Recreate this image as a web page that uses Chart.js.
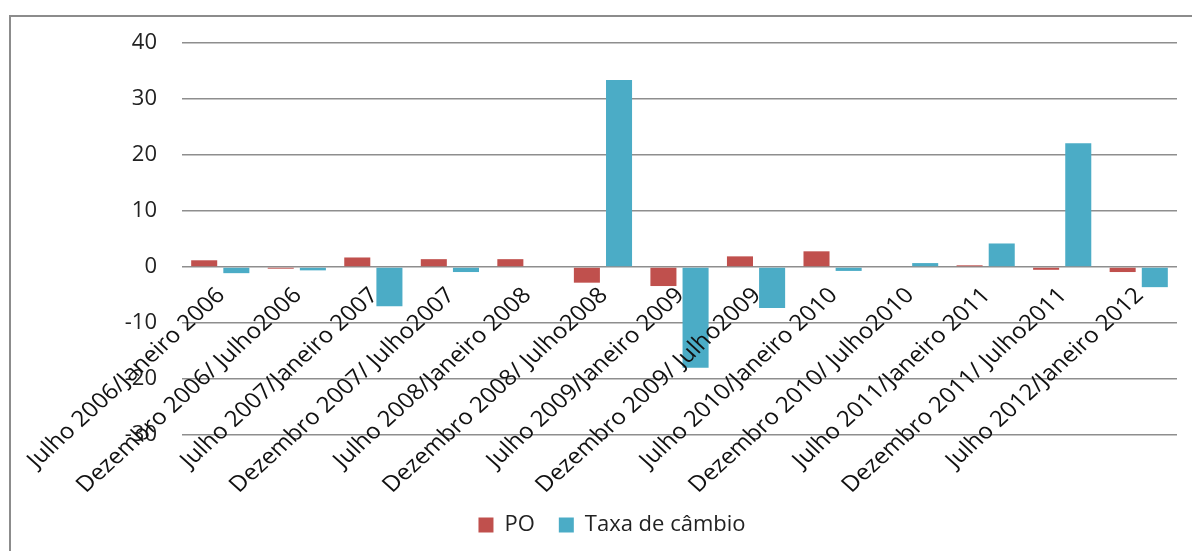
<!DOCTYPE html>
<html>
<head>
<meta charset="utf-8">
<script src="https://cdn.jsdelivr.net/npm/chart.js@4/dist/chart.umd.min.js"></script>
<style>
html,body{margin:0;padding:0;background:#fff;}
canvas{display:block;}
</style>
</head>
<body>
<canvas id="c" width="1192" height="551"></canvas>
<script>
var periods=['Julho 2006/Janeiro 2006','Dezembro 2006/ Julho2006','Julho 2007/Janeiro 2007','Dezembro 2007/ Julho2007','Julho 2008/Janeiro 2008','Dezembro 2008/ Julho2008','Julho 2009/Janeiro 2009','Dezembro 2009/ Julho2009','Julho 2010/Janeiro 2010','Dezembro 2010/ Julho2010','Julho 2011/Janeiro 2011','Dezembro 2011/ Julho2011','Julho 2012/Janeiro 2012'];
var po=[1.2,-0.3,1.7,1.4,1.4,-2.8,-3.4,1.9,2.8,0,0.3,-0.5,-0.9];
var taxa=[-1.1,-0.6,-7.0,-0.9,0,33.4,-18.0,-7.3,-0.7,0.7,4.2,22.1,-3.6];
var yTicks=[-30,-20,-10,0,10,20,30,40];

var FONT='"Open Sans", sans-serif';

// outer frame (Excel chart border, runs off right/bottom)
var frame={id:'frame',beforeDraw:function(ch){
  var c=ch.ctx;c.save();c.fillStyle='#fff';c.fillRect(0,0,ch.width,ch.height);
  c.strokeStyle='#8c8c8c';c.lineWidth=2;c.strokeRect(10,16,ch.width+40,ch.height+40);c.restore();
}};

// rotated category labels anchored at the zero line, drawn over the plot
// (source image is stretched ~1.1x horizontally, hence the scale before rotating)
var catLabels={id:'catLabels',afterDraw:function(ch){
  var c=ch.ctx,xs=ch.scales.x,ys=ch.scales.y,y0=ys.getPixelForValue(0);
  c.save();c.font='22px '+FONT;c.fillStyle='#111';c.textAlign='right';c.textBaseline='middle';
  periods.forEach(function(p,i){
    c.save();c.translate(xs.getPixelForValue(i)+1,y0+25);c.scale(1.1,1);c.rotate(-Math.PI/4);c.fillText(p,0,0);c.restore();
  });
  c.restore();
}};

new Chart(document.getElementById('c').getContext('2d'),{
  type:'bar',
  data:{labels:periods,datasets:[
    {label:'PO',data:po,backgroundColor:'#c0504d'},
    {label:'Taxa de câmbio',data:taxa,backgroundColor:'#4bacc6'}
  ]},
  options:{
    responsive:false,animation:false,devicePixelRatio:1,
    categoryPercentage:0.84,barPercentage:0.81,
    layout:{padding:{left:47,right:15,top:43,bottom:5}},
    plugins:{
      tooltip:{enabled:false},
      legend:{position:'bottom',labels:{boxWidth:15,boxHeight:15,padding:24,color:'#222',font:{family:FONT,size:22}}}
    },
    scales:{
      x:{grid:{display:false},border:{display:false},ticks:{display:false},
        afterFit:function(s){s.height=55;}},
      y:{min:-30,max:40,
        afterBuildTicks:function(s){s.ticks=yTicks.map(function(v){return {value:v};});},
        afterFit:function(s){s.width=135;},
        grid:{color:'#8e8e8e',lineWidth:1.5,drawTicks:false},
        border:{display:false},
        ticks:{padding:25,color:'#222',font:{family:FONT,size:22}}
      }
    }
  },
  plugins:[frame,catLabels]
});
</script>
</body>
</html>
